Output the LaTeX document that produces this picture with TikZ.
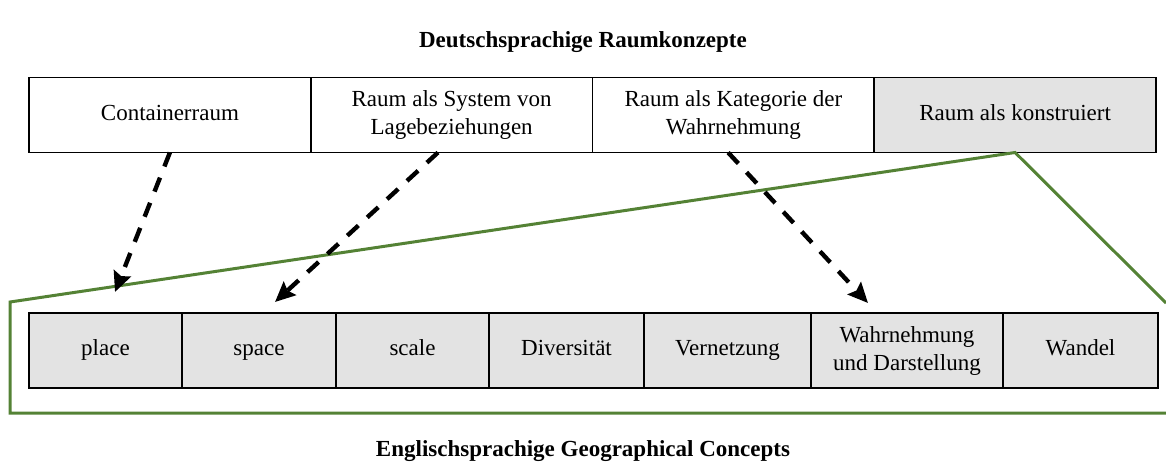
\documentclass[tikz,border=0pt]{standalone}
\usepackage{fontspec}
\setmainfont{Liberation Serif}
\usetikzlibrary{arrows.meta}
\definecolor{framegreen}{RGB}{84,130,53}
\tikzset{every node/.style={ % text of all boxes and titles
            font=\fontsize{11.5}{14}\selectfont},
        box/.style={ % one field of a row
            draw, line width=0.9pt,
            minimum height=37.5pt,
            inner sep=2pt, outer sep=0pt,
            align=center},
        oneline/.style={text height=8pt, text depth=2.6pt},
        topbox/.style={box, minimum width=140.9pt},
        greybox/.style={box, fill=black!11},
        heading/.style={font=\fontsize{11.5}{14}\selectfont\bfseries},
        maps/.style={ % dashed arrows between concepts
            draw, line width=2.2pt,
            dash pattern=on 7.5pt off 6pt,
            -{Stealth[length=10pt,width=9pt,inset=1.5pt]}},
        frame/.style={draw=framegreen, line width=1.5pt}
        }

\begin{document}
\begin{tikzpicture}[x=0.5pt, y=-0.5pt]
    \useasboundingbox (0,0) rectangle (1166,472);

    \node[heading] (de) at (583,42) {Deutschsprachige Raumkonzepte};
    \node[heading] (en) at (583,451) {Englischsprachige Geographical Concepts};

    % upper row
    \node[topbox, oneline] (cont) at (169.9,115) {Containerraum};
    \node[topbox] (lage) at (451.6,115) {Raum als System von\\Lagebeziehungen};
    \node[topbox] (kat) at (733.4,115) {Raum als Kategorie der\\Wahrnehmung};
    \node[topbox, oneline, fill=black!11] (konst) at (1015.1,115) {Raum als konstruiert};

    % lower row
    \node[greybox, oneline, minimum width=76.5pt] (place) at (105.5,350.5) {place};
    \node[greybox, oneline, minimum width=77pt] (space) at (259,350.5) {space};
    \node[greybox, oneline, minimum width=76.5pt] (scale) at (412.5,350.5) {scale};
    \node[greybox, oneline, minimum width=77.5pt] (div) at (566.5,350.5) {Diversität};
    \node[greybox, oneline, minimum width=83.5pt] (vern) at (727.5,350.5) {Vernetzung};
    \node[greybox, minimum width=96pt] (wahr) at (907,350.5) {Wahrnehmung\\und Darstellung};
    \node[greybox, oneline, minimum width=77.5pt] (wand) at (1080.5,350.5) {Wandel};

    % green frame opening from "Raum als konstruiert"
    \coordinate (fr) at (1166,303);
    \coordinate (ftl) at (10,302);
    \coordinate (fbl) at (10,413);
    \coordinate (fbr) at (1166,413);
    \draw[frame] (fr) -- (konst.south) -- (ftl) -- (fbl) -- (fbr);

    % arrow tips
    \coordinate (tplace) at (115,292);
    \coordinate (tspace) at (275,302);
    \coordinate (twahr) at (868,303);

    \draw[maps] (cont.south) -- (tplace);
    \draw[maps] (lage.250) -- (tspace);
    \draw[maps] (kat.262) -- (twahr);
\end{tikzpicture}
\end{document}
